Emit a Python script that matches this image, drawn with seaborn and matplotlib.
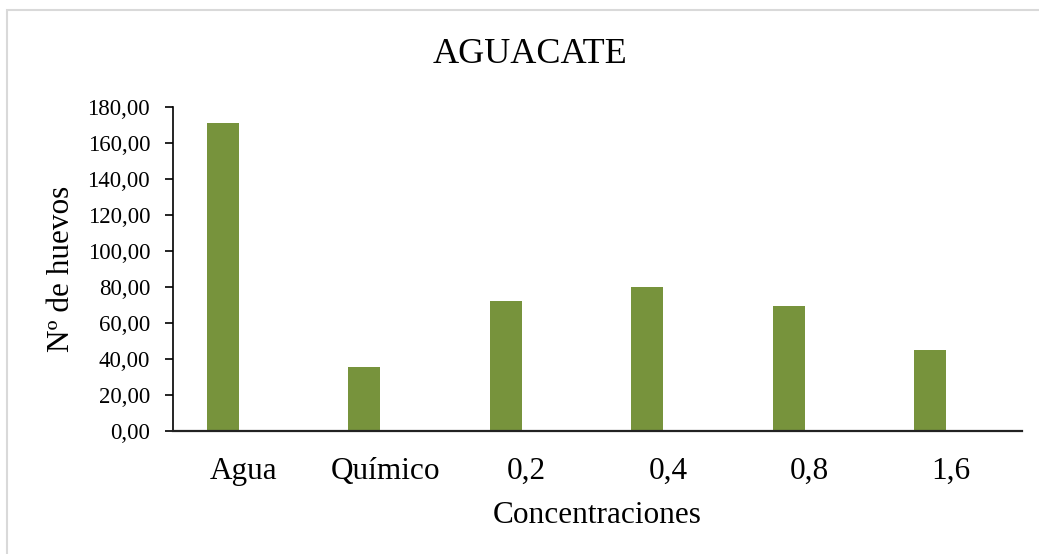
import matplotlib
matplotlib.use("Agg")
import matplotlib.pyplot as plt
import seaborn as sns
import numpy as np
import pandas as pd
from matplotlib.patches import Rectangle

categories = ["Agua", "Químico", "0,2", "0,4", "0,8", "1,6"]
values = [171.0, 35.5, 72.2, 80.0, 69.3, 44.6]
yticks = [0, 20, 40, 60, 80, 100, 120, 140, 160, 180]
ytick_labels = ["0,00", "20,00", "40,00", "60,00", "80,00", "100,00", "120,00", "140,00", "160,00", "180,00"]
title = "AGUACATE"
xlabel = "Concentraciones"
ylabel = "Nº de huevos"

sns.set_theme(style="white")
plt.rcParams['font.family'] = ['Liberation Serif', 'DejaVu Serif']
plt.rcParams['text.color'] = 'black'
plt.rcParams['axes.labelcolor'] = 'black'
plt.rcParams['xtick.color'] = 'black'
plt.rcParams['ytick.color'] = 'black'

W, H = 1039, 554
fig = plt.figure(figsize=(W / 100, H / 100), dpi=100)
ax = fig.add_axes([173 / W, 1 - 430.7 / H, (1022 - 173) / W, (430.7 - 106.7) / H])

idx = np.arange(len(categories))
offset = -0.149
df = pd.DataFrame({"pos": idx + offset, "value": values})
sns.barplot(data=df, x="pos", y="value", native_scale=True, width=0.224,
            color="#77933C", saturation=1, ax=ax, edgecolor="none")

ax.set_xlim(-0.5, len(categories) - 0.5)
ax.set_ylim(0, 180)
ax.set_xticks(idx)
ax.set_xticklabels(categories, fontsize=22.5)
ax.set_yticks(yticks)
ax.set_yticklabels(ytick_labels, fontsize=16.5)
ax.tick_params(axis='x', length=0, pad=19)
ax.tick_params(axis='y', length=6, width=1.2, direction='out', left=True, color='black', pad=10.5)
for s in ["top", "right"]:
    ax.spines[s].set_visible(False)
ax.spines["left"].set_color("black")
ax.spines["left"].set_linewidth(1.2)
ax.spines["bottom"].set_color("#222222")
ax.spines["bottom"].set_linewidth(1.6)
ax.set_xlabel(xlabel, fontsize=22.5, labelpad=11)
ax.set_ylabel(ylabel, fontsize=22.5, labelpad=8)
ax.grid(False)
fig.text(530 / W, 1 - 54 / H, title, fontsize=26, ha="center", va="center", color="black")

fig.patches.append(Rectangle((6.5 / W, -0.1), 1.2, (H - 10) / H + 0.1, transform=fig.transFigure,
                             fill=False, edgecolor="#D9D9D9", linewidth=1.5, zorder=0))

fig.savefig("out.png", dpi=100, facecolor="white")
